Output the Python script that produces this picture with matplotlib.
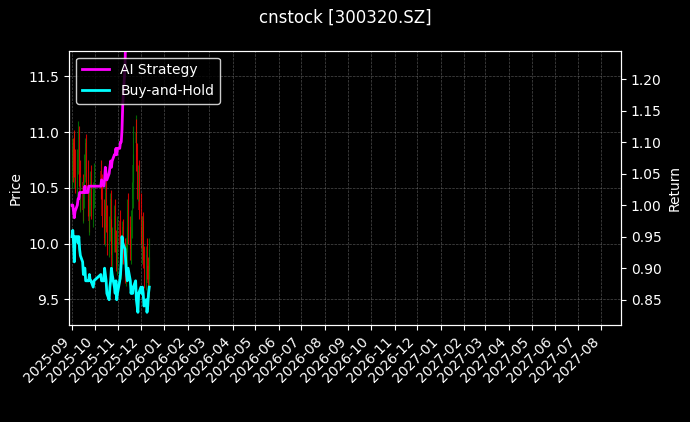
import matplotlib.pyplot as plt
import matplotlib.dates as mdates
import pandas as pd
import numpy as np

plt.style.use("dark_background")

days = pd.bdate_range("2025-09-01", "2025-12-12")
days = days[(days < "2025-10-01") | (days > "2025-10-08")]

opens = [10.60,10.85,10.60,10.95,10.75,10.50,10.70,11.00,10.65,10.35,10.55,10.25,10.40,10.65,10.90,10.65,10.40,10.15,10.35,10.60,10.25,10.40,
         10.65,10.55,10.30,10.05,10.25,10.50,10.25,9.95,10.10,10.40,10.15,9.85,10.00,10.30,10.05,9.80,9.90,
         10.20,10.05,9.75,9.90,10.15,9.95,9.70,9.85,10.00,10.35,10.15,9.90,10.15,10.40,10.65,10.90,11.05,10.80,10.45,10.65,
         10.35,10.15,9.90,10.20,9.90,9.65,9.95,9.80,9.60,9.75]
closes = [10.80,10.65,10.90,10.70,10.55,10.75,10.95,10.60,10.40,10.50,10.30,10.45,10.70,10.85,10.60,10.35,10.20,10.40,10.55,10.30,10.45,10.60,
          10.50,10.25,10.10,10.30,10.45,10.20,10.00,10.15,10.35,10.10,9.90,10.05,10.25,10.00,9.85,9.95,10.15,
          10.00,9.80,9.95,10.10,9.90,9.75,9.90,10.05,10.30,10.10,9.95,10.20,10.45,10.70,10.95,11.00,10.75,10.50,10.60,10.30,
          10.10,9.95,10.15,9.85,9.70,9.90,9.75,9.65,9.80,9.95]
highs = [10.95,10.95,11.00,11.02,10.85,10.85,11.10,11.05,10.75,10.60,10.62,10.55,10.80,10.95,10.98,10.75,10.50,10.50,10.65,10.70,10.55,10.72,
         10.75,10.62,10.40,10.40,10.55,10.58,10.35,10.25,10.45,10.48,10.22,10.15,10.35,10.40,10.12,10.05,10.25,
         10.30,10.12,10.05,10.20,10.22,10.05,10.00,10.15,10.40,10.45,10.25,10.30,10.55,10.80,11.05,11.15,11.12,10.90,10.70,10.75,
         10.45,10.25,10.25,10.28,9.98,9.98,10.05,9.88,9.88,10.05]
lows = [10.50,10.55,10.50,10.60,10.45,10.42,10.62,10.52,10.30,10.28,10.20,10.18,10.32,10.55,10.50,10.25,10.10,10.08,10.25,10.22,10.15,10.32,
        10.40,10.15,10.00,9.98,10.15,10.10,9.90,9.88,10.02,10.00,9.80,9.78,9.92,9.92,9.75,9.72,9.82,
        9.92,9.72,9.68,9.82,9.82,9.65,9.62,9.78,9.92,10.00,9.85,9.82,10.05,10.32,10.55,10.82,10.65,10.40,10.38,10.22,
        10.00,9.85,9.82,9.78,9.60,9.58,9.68,9.55,9.52,9.68]
ai_strategy = [1.00,1.00,0.99,0.98,0.99,1.00,1.01,1.01,1.02,1.02,1.02,1.02,1.02,1.03,1.02,1.02,1.03,1.03,1.03,1.03,1.03,1.03,
               1.03,1.04,1.03,1.04,1.06,1.05,1.04,1.05,1.06,1.07,1.06,1.07,1.08,1.08,1.09,1.08,1.09,
               1.09,1.10,1.10,1.12,1.16,1.22,1.28,1.32,1.34,1.36,1.38,1.40,1.42,1.45,1.48,1.50,1.48,1.46,1.47,1.45,
               1.43,1.42,1.44,1.41,1.40,1.42,1.41,1.40,1.41,1.42]
buy_hold = [0.95,0.96,0.94,0.91,0.95,0.95,0.94,0.95,0.93,0.92,0.91,0.89,0.90,0.90,0.88,0.88,0.88,0.89,0.88,0.88,0.87,0.88,
            0.89,0.88,0.88,0.90,0.89,0.88,0.86,0.85,0.87,0.88,0.90,0.89,0.87,0.86,0.88,0.85,0.86,
            0.88,0.89,0.91,0.95,0.94,0.93,0.91,0.89,0.88,0.90,0.88,0.86,0.87,0.86,0.87,0.88,0.85,0.84,0.83,0.86,
            0.87,0.86,0.87,0.86,0.84,0.85,0.83,0.84,0.86,0.87]

fig, ax = plt.subplots(figsize=(6.9, 4.22), dpi=100)
fig.patch.set_facecolor("black")
ax.set_facecolor("black")

o = np.array(opens); c = np.array(closes)
cols = np.where(c >= o, "green", "red")
ax.vlines(days, lows, highs, colors=cols, linewidth=0.8, alpha=0.8)
ax.bar(days, c - o, bottom=o, width=0.8, color=cols, alpha=0.5)
ax.set_ylabel("Price")
ax.set_ylim(9.27, 11.73)
ax.grid(True, linestyle="--", linewidth=0.5, color="gray", alpha=0.6)

ax2 = ax.twinx()
ax2.plot(days, ai_strategy, color="magenta", linewidth=2, label="AI Strategy")
ax2.plot(days, buy_hold, color="cyan", linewidth=2, label="Buy-and-Hold")
ax2.set_ylim(0.81, 1.245)
ax2.set_ylabel("Return")
ax2.legend(loc="upper left", facecolor="black", edgecolor="white")

ax.set_xlim(pd.Timestamp("2025-08-28"), pd.Timestamp("2027-08-27"))
ax.xaxis.set_major_locator(mdates.MonthLocator())
ax.xaxis.set_major_formatter(mdates.DateFormatter("%Y-%m"))
plt.setp(ax.get_xticklabels(), rotation=45, ha="right")

fig.suptitle("cnstock [300320.SZ]")
fig.subplots_adjust(left=0.1, right=0.9, top=0.88, bottom=0.23)
fig.savefig("out.png", dpi=100)
